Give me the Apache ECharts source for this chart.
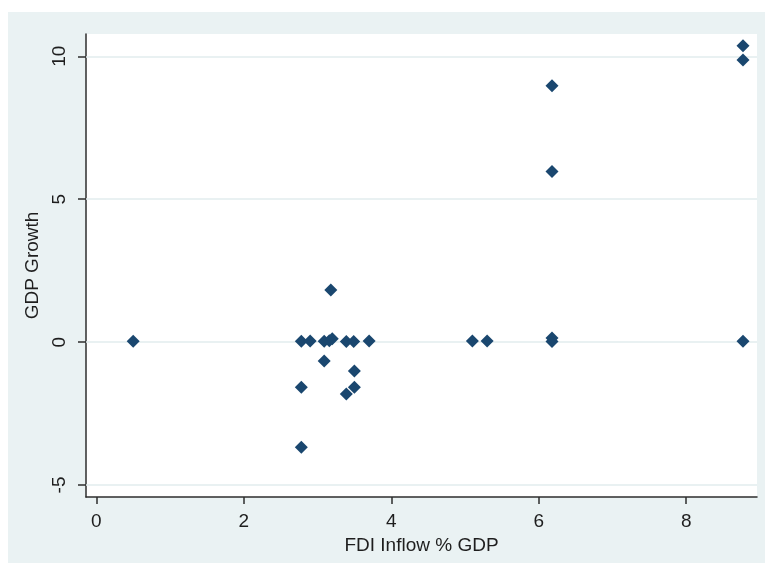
<!DOCTYPE html>
<html>
<head>
<meta charset="utf-8">
<script src="https://cdn.jsdelivr.net/npm/echarts@6/dist/echarts.min.js"></script>
<style>
  html, body { margin: 0; padding: 0; background: #ffffff; }
  #bg { position: absolute; left: 8px; top: 12px; width: 757px; height: 551px; background: #eaf2f3; }
  #chart { position: absolute; left: 0; top: 0; width: 765px; height: 566px; }
</style>
</head>
<body>
<div id="bg"></div>
<div id="chart"></div>
<script>
// FDI inflow (% of GDP) on x, GDP growth on y
const fdiInflow = [0.50, 2.78, 2.78, 2.78, 2.90, 3.09, 3.09, 3.16, 3.20, 3.18, 3.39, 3.39, 3.49, 3.50, 3.50, 3.70, 5.10, 5.30, 6.18, 6.18, 6.18, 6.18, 8.77, 8.77, 8.77];
const gdpGrowth = [0.03, 0.03, -1.58, -3.68, 0.04, 0.03, -0.66, 0.05, 0.12, 1.82, 0.02, -1.82, 0.02, -1.01, -1.58, 0.04, 0.04, 0.04, 0.02, 0.14, 5.97, 8.97, 0.03, 9.87, 10.37];

const xTicks = [0, 2, 4, 6, 8];
const yTicks = [-5, 0, 5, 10];
const xRange = [-0.14, 8.96];
const yRange = [-5.42, 10.78];

const points = fdiInflow.map((x, i) => [x, gdpGrowth[i]]);

const fontFam = "'Liberation Sans', Arial, sans-serif";
const textColor = '#1e1e1e';
const axisColor = '#2e2e2e';

const chart = echarts.init(document.getElementById('chart'), null, { renderer: 'canvas' });
chart.setOption({
  animation: false,
  backgroundColor: 'transparent',
  grid: {
    left: 86, top: 34, right: 8, bottom: 69,
    show: true, backgroundColor: '#ffffff', borderWidth: 0
  },
  xAxis: {
    type: 'value',
    min: xRange[0], max: xRange[1],
    name: 'FDI Inflow % GDP',
    nameLocation: 'middle',
    nameGap: 33,
    nameTextStyle: { fontFamily: fontFam, fontSize: 19, color: textColor },
    axisLine: { show: true, onZero: false, lineStyle: { color: axisColor, width: 1.5 } },
    axisTick: { show: true, length: 7, customValues: xTicks, lineStyle: { color: axisColor, width: 1.5 } },
    axisLabel: { show: true, customValues: xTicks, margin: 15, fontFamily: fontFam, fontSize: 19, color: textColor },
    splitLine: { show: false }
  },
  yAxis: {
    type: 'value',
    min: yRange[0], max: yRange[1],
    name: 'GDP Growth',
    nameLocation: 'middle',
    nameGap: 42,
    nameRotate: 90,
    nameTextStyle: { fontFamily: fontFam, fontSize: 19, color: textColor },
    axisLine: { show: true, onZero: false, lineStyle: { color: axisColor, width: 1.5 } },
    axisTick: { show: true, length: 8, customValues: yTicks, lineStyle: { color: axisColor, width: 1.5 } },
    axisLabel: { show: true, customValues: yTicks, rotate: 90, margin: 17, fontFamily: fontFam, fontSize: 19, color: textColor },
    splitLine: { show: false }
  },
  series: [{
    type: 'scatter',
    data: points,
    symbol: 'diamond',
    symbolSize: 13,
    z: 3,
    itemStyle: { color: '#1a476f', opacity: 1 },
    markLine: {
      silent: true,
      z: 1,
      symbol: 'none',
      label: { show: false },
      lineStyle: { color: '#e2ecee', type: 'solid', width: 1.5, opacity: 1 },
      emphasis: { disabled: true },
      data: yTicks.map(v => ({ yAxis: v }))
    }
  }]
});
</script>
</body>
</html>
